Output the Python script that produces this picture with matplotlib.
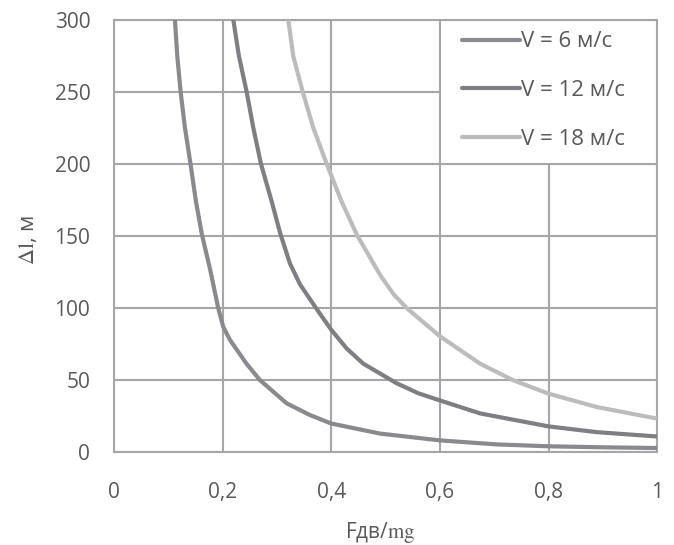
import matplotlib
matplotlib.use('Agg')
import matplotlib.pyplot as plt
from matplotlib.patches import Rectangle

plt.rcParams['font.family'] = ['Open Sans', 'DejaVu Sans']
plt.rcParams['mathtext.fontset'] = 'stix'

# values
x_ticks = [0, 0.2, 0.4, 0.6, 0.8, 1.0]
x_tick_labels = ['0', '0,2', '0,4', '0,6', '0,8', '1']
y_ticks = [0, 50, 100, 150, 200, 250, 300]

x_v6 = [0.1123, 0.1166, 0.1228, 0.1308, 0.141, 0.151, 0.162, 0.177, 0.192, 0.2013,
        0.2136, 0.244, 0.269, 0.318, 0.36, 0.4, 0.49, 0.6, 0.705, 0.8, 0.9, 1.0]
y_v6 = [300, 275, 250, 225, 200, 174, 151, 127, 100, 87,
        78, 61.5, 50, 34, 26, 20, 13, 8.3, 5.5, 4.2, 3.5, 3]

x_v12 = [0.2198, 0.230, 0.2443, 0.2566, 0.2707, 0.2904, 0.306, 0.324, 0.3425, 0.373,
         0.4, 0.4285, 0.459, 0.52, 0.56, 0.6, 0.674, 0.8, 0.889, 1.0]
y_v12 = [300, 275, 250, 225, 200, 174, 152, 131, 116.5, 99.5,
         85, 72, 61.5, 48, 41, 36, 27, 18, 14, 11]

x_v18 = [0.321, 0.330, 0.3475, 0.367, 0.3917, 0.419, 0.447, 0.49, 0.515,
         0.539, 0.6, 0.674, 0.735, 0.8, 0.889, 1.0]
y_v18 = [300, 275, 250, 225, 200, 174, 151, 123, 109.5,
         100, 80.5, 61.5, 50, 40.7, 31.4, 23.4]

labels = ['V = 6 м/с', 'V = 12 м/с', 'V = 18 м/с']
colors = ['#8a8a8e', '#7e7e83', '#bcbcbf']

GRID = '#a6a6a8'
TEXT = '#595959'

fig = plt.figure(figsize=(6.74, 5.45), dpi=100)
ax = fig.add_axes([0.169, 0.170, 0.806, 0.794])

for xs, ys, lab, c in zip([x_v6, x_v12, x_v18], [y_v6, y_v12, y_v18], labels, colors):
    ax.plot(xs, ys, color=c, lw=3.0, label=lab, solid_joinstyle='round',
            solid_capstyle='round', zorder=3)

ax.set_xlim(0, 1)
ax.set_ylim(0, 300)
ax.set_xticks(x_ticks)
ax.set_xticklabels(x_tick_labels)
ax.set_yticks(y_ticks)
ax.tick_params(axis='x', length=0, pad=21, labelsize=15, labelcolor=TEXT)
ax.tick_params(axis='y', length=0, pad=17, labelsize=15, labelcolor=TEXT)
ax.grid(True, color=GRID, lw=1.5, zorder=1)
ax.set_axisbelow(True)
for s in ax.spines.values():
    s.set_color(GRID)
    s.set_linewidth(1.5)

# legend box sits on the grid cell block in the upper right corner
ax.add_patch(Rectangle((0.6, 200), 0.4, 100, facecolor='white', edgecolor=GRID,
                       lw=1.5, zorder=2.5))
leg = ax.legend(loc='upper left', bbox_to_anchor=(0.641, 0.973), frameon=False,
                fontsize=16, handlelength=2.6, handletextpad=0.04,
                labelspacing=1.25, borderpad=0, borderaxespad=0,
                labelcolor=TEXT)
leg.set_zorder(5)

ax.set_xlabel(r'Fдв/$\mathrm{mg}$', fontsize=15, color=TEXT, va='center')
ax.xaxis.set_label_coords(0.49, -0.185)
ax.set_ylabel(r'$\Delta\mathrm{l}$, м', fontsize=16, color=TEXT)
ax.yaxis.set_label_coords(-0.138, 0.49)

fig.savefig('out.png', dpi=100)
